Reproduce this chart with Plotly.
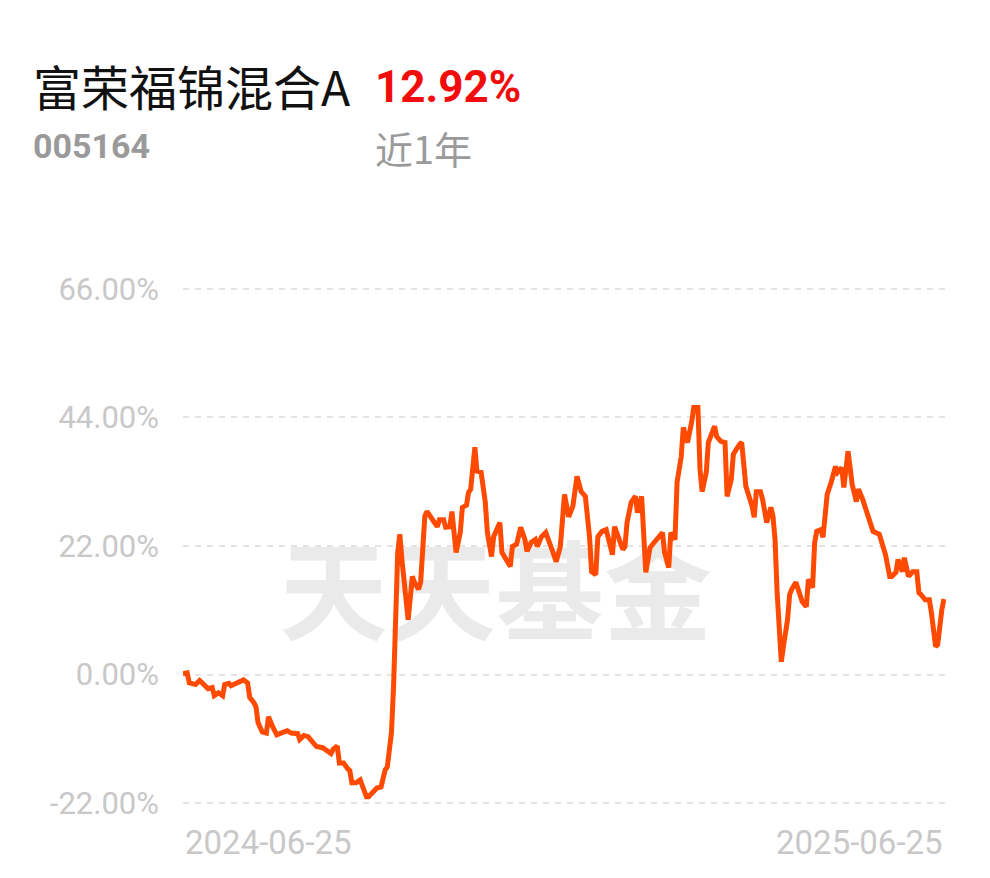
import pandas as pd
import plotly.graph_objects as go

# days since 2024-06-25 and cumulative return (%)
day_offsets = [
    0, 2, 3, 6, 8, 10, 12, 14, 15, 17, 19, 20, 22, 23, 26, 29, 31, 32, 34, 35,
    36, 38, 40, 41, 43, 45, 47, 50, 52, 55, 56, 58, 60, 62, 64, 67, 69, 71, 72, 74,
    75, 77, 79, 80, 81, 83, 85, 86, 88, 89, 91, 93, 95, 96, 97, 98, 99, 100, 101, 102,
    103, 104, 105, 108, 110, 111, 113, 114, 116, 117, 119, 122, 123, 125, 126, 128, 129, 130, 131, 133,
    134, 136, 137, 138, 140, 141, 143, 145, 146, 148, 149, 152, 153, 155, 157, 158, 160, 162, 164, 165,
    167, 169, 170, 172, 174, 177, 179, 181, 183, 185, 187, 189, 191, 193, 195, 196, 198, 199, 201, 203,
    205, 206, 207, 209, 211, 212, 213, 215, 217, 218, 220, 222, 224, 226, 228, 230, 231, 233, 234, 236,
    237, 239, 240, 242, 244, 245, 247, 248, 249, 251, 252, 255, 256, 258, 260, 261, 263, 264, 267, 268,
    270, 273, 274, 275, 277, 278, 280, 282, 283, 284, 285, 286, 287, 288, 290, 291, 292, 294, 296, 297,
    299, 300, 302, 303, 304, 306, 307, 309, 311, 313, 314, 316, 317, 319, 320, 321, 323, 324, 326, 328,
    330, 331, 334, 336, 337, 339, 340, 342, 343, 345, 346, 348, 350, 352, 353, 354, 356, 358, 359, 361,
    362, 364, 365,
]
returns_pct = [
    0.2, 0.3, -1.4, -1.7, -1.0, -1.7, -2.4, -2.2, -3.6, -3.1, -3.6, -1.7, -1.5, -1.9, -1.4, -0.9, -1.4, -3.9, -4.8, -5.5,
    -8.2, -9.8, -10.0, -7.2, -8.9, -10.3, -10.0, -9.6, -10.0, -10.1, -11.1, -10.4, -10.6, -11.6, -12.3, -12.5, -13.0, -13.5, -12.8, -12.2,
    -15.1, -15.1, -16.1, -16.4, -18.5, -18.5, -18.0, -18.8, -20.9, -20.9, -20.2, -19.4, -19.2, -17.5, -16.3, -15.8, -13.4, -9.9, -2.1, 9.4,
    20.9, 24.0, 19.7, 9.4, 16.8, 15.8, 14.6, 15.8, 27.1, 27.9, 26.9, 25.3, 26.5, 26.5, 25.2, 25.3, 27.9, 23.1, 20.9, 24.3,
    28.6, 29.0, 31.2, 31.7, 38.9, 34.8, 34.6, 29.5, 24.3, 20.2, 23.6, 26.0, 20.9, 19.7, 18.5, 21.9, 22.3, 25.2, 23.1, 21.1,
    22.6, 23.1, 21.9, 23.6, 24.3, 21.4, 19.3, 21.9, 30.8, 27.0, 28.8, 33.9, 31.3, 30.5, 23.6, 17.6, 17.1, 23.6, 24.5, 24.8,
    21.4, 20.5, 25.3, 23.6, 21.4, 21.9, 26.0, 29.5, 30.5, 27.7, 30.5, 17.5, 21.7, 22.6, 23.5, 24.3, 20.9, 18.3, 24.3, 23.1,
    32.9, 37.3, 42.3, 39.7, 43.2, 45.7, 45.7, 35.1, 31.3, 34.6, 39.7, 42.5, 40.7, 39.9, 39.7, 30.5, 33.4, 37.7, 39.4, 39.7,
    32.2, 28.8, 26.9, 31.3, 31.3, 30.0, 26.0, 28.6, 27.1, 23.1, 14.0, 6.5, 2.2, 4.8, 9.4, 13.7, 14.6, 15.8, 13.2, 12.5,
    11.6, 16.3, 14.9, 22.6, 24.5, 24.8, 23.5, 30.8, 33.0, 35.6, 34.6, 35.4, 32.0, 38.2, 35.4, 32.5, 29.6, 31.7, 30.0, 27.7,
    25.7, 24.5, 24.0, 21.4, 20.5, 16.8, 16.8, 17.5, 19.7, 17.6, 20.0, 16.8, 17.6, 17.6, 14.0, 13.7, 12.8, 12.8, 10.6, 4.8,
    5.1, 11.1, 12.92,
]
y_ticks = [-22, 0, 22, 44, 66]
y_tick_labels = ["-22.00%", "0.00%", "22.00%", "44.00%", "66.00%"]
start_label = "2024-06-25"
end_label = "2025-06-25"
fund_name = "富荣福锦混合A"
fund_code = "005164"
period_return = "12.92%"
period_label = "近1年"
watermark = "天天基金"

start = pd.Timestamp(start_label)
dates = [start + pd.Timedelta(days=d) for d in day_offsets]

# the page body has an 8px margin; work in window pixels and shift
OFF = 8
WIN_W, WIN_H = 990, 878
W, H = WIN_W - OFF, WIN_H - OFF
# plot area in window pixels (y range padded 0.3 so edge gridlines show)
PL, PR, PT, PB = 183, 946, 287, 805
L, T = PL - OFF, PT - OFF
R, B = W - (PR - OFF), H - (PB - OFF)
pw, ph = W - L - R, H - T - B


def px(x):
    return (x - PL) / pw


def py(y):
    return (PB - y) / ph


fig = go.Figure()

# watermark (drawn first so the line sits on top)
fig.add_trace(go.Scatter(
    x=[start + pd.Timedelta(days=150)], y=[11.9], mode="text",
    text=[watermark], textposition="middle center",
    textfont=dict(family="Noto Sans CJK SC", size=108, color="#eaeaea", weight="bold"),
    hoverinfo="skip", showlegend=False,
))

fig.add_trace(go.Scatter(
    x=dates, y=returns_pct, mode="lines",
    line=dict(color="#ff4a00", width=5),
    hoverinfo="skip", showlegend=False,
))

fig.update_layout(
    width=W, height=H,
    margin=dict(l=L, r=R, t=T, b=B),
    paper_bgcolor="white", plot_bgcolor="white",
    showlegend=False,
    xaxis=dict(
        range=[start, start + pd.Timedelta(days=366)],
        showgrid=False, zeroline=False, showticklabels=False, showline=False,
        fixedrange=True,
    ),
    yaxis=dict(
        range=[-22.3, 66.3], tickvals=y_ticks, ticktext=y_tick_labels,
        showgrid=True, gridcolor="#e3e3e3", gridwidth=2, griddash="6px,6px",
        zeroline=False, showline=False, ticks="",
        tickfont=dict(family="Roboto", size=31, color="#c8c8c8"),
        ticklabelstandoff=23,
        fixedrange=True,
    ),
    annotations=[
        dict(text=fund_name, xref="paper", yref="paper", x=px(31), y=py(85),
             xanchor="left", yanchor="middle", showarrow=False,
             font=dict(family="Noto Sans CJK SC", size=48, color="#111111")),
        dict(text="<b>" + period_return + "</b>", xref="paper", yref="paper", x=px(373), y=py(87),
             xanchor="left", yanchor="middle", showarrow=False,
             font=dict(family="Roboto", size=44, color="#f20d0d")),
        dict(text="<b>" + fund_code + "</b>", xref="paper", yref="paper", x=px(31), y=py(146),
             xanchor="left", yanchor="middle", showarrow=False,
             font=dict(family="Roboto", size=34, color="#9a9a9a")),
        dict(text=period_label, xref="paper", yref="paper", x=px(373), y=py(147),
             xanchor="left", yanchor="middle", showarrow=False,
             font=dict(family="Noto Sans CJK SC", size=38, color="#9a9a9a")),
        dict(text=start_label, xref="paper", yref="paper", x=px(183), y=py(842),
             xanchor="left", yanchor="middle", showarrow=False,
             font=dict(family="Roboto", size=33, color="#c8c8c8")),
        dict(text=end_label, xref="paper", yref="paper", x=px(945), y=py(842),
             xanchor="right", yanchor="middle", showarrow=False,
             font=dict(family="Roboto", size=33, color="#c8c8c8")),
    ],
)

fig.write_html("out.html")
